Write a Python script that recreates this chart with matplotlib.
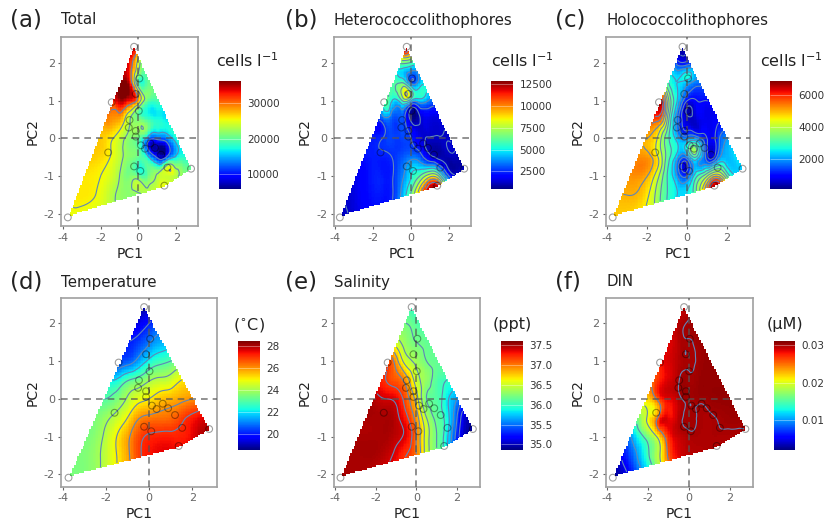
import numpy as np
import matplotlib
matplotlib.use("Agg")
import matplotlib.pyplot as plt
import matplotlib.tri as mtri
from matplotlib.path import Path

plt.rcParams["axes.unicode_minus"] = False

W, H = 835, 523
na = float("nan")

# sampling stations in PC space
site_pc1 = [-0.23, 0.05, -0.14, -1.41, 0.02, -0.47, -0.51, -0.14, -0.14, 0.13, 0.35,
            0.63, 0.88, 1.20, 1.53, 2.78, 1.37, -0.23, 0.10, -1.60, -3.73]
site_pc2 = [2.43, 1.59, 1.18, 0.96, 0.73, 0.49, 0.29, 0.20, 0.05, -0.18, -0.27,
            -0.13, -0.25, -0.43, -0.77, -0.80, -1.25, -0.74, -0.86, -0.37, -2.09]

# outline of the coloured area
hull_pc1 = [-3.68, -1.35, -0.25, 2.78, 1.40]
hull_pc2 = [-2.05, 0.95, 2.42, -0.80, -1.27]

# values, on a coarse node grid (rows top to bottom)
grid_pc1 = [-4, -3, -2, -1.5, -1, -0.5, 0, 0.5, 1, 1.5, 2, 2.5, 3]
grid_pc2 = [2.5, 2, 1.5, 1, 0.5, 0, -0.5, -1, -1.5, -2, -2.5]

total_grid = [
    [33, 33, 33, 33, 34, 34, 28, 22, 20, 20, 20, 20, 20],
    [33, 33, 33, 33, 34, 33, 24, 20, 20, 20, 20, 20, 20],
    [33, 33, 33, 34, 35, 34, 19, 20, 20, 20, 19, 19, 19],
    [30, 30, 31, 33, 35, 33, 28, 20, 19, 18, 18, 18, 18],
    [28, 28, 28, 29, 28, 23, 21, 19, 17.5, 16.5, 17, 17, 17],
    [27, 27, 27, 26, 24, 21.5, 20, 14, 12, 13.5, 17.5, 18, 18],
    [27, 27, 26.5, 25.5, 23.5, 21.5, 20, 17, 10.5, 12, 17, 18, 18],
    [26, 26, 25.5, 24.5, 22.5, 21, 20.5, 20.5, 23, 24, 23, 21, 20],
    [26, 26, 25, 23.5, 22, 21.5, 22, 23, 24, 25, 24, 22, 21],
    [25, 25, 24.5, 23.5, 22, 21.5, 22, 23, 24, 24, 23, 22, 21],
    [25, 25, 24.5, 23.5, 22, 21.5, 22, 23, 24, 24, 23, 22, 21],
]
total_site = [34, 19, 31, 32, 20, na, na, na, na, na, na, 8, na, 6.5, 24.5, 20, 25, na, 17.5, 26, 25]

hetero_grid = [
    [5, 5, 5, 5, 7, 11, 9, 4, 3, 3, 3, 3, 3],
    [6, 6, 6, 6, 6, 6.5, 6, 5, 4, 3, 3, 3, 3],
    [4, 4, 4, 4.5, 6, 6, 3, 4.5, 4, 3, 3, 3, 3],
    [3, 3, 3.5, 4.5, 5, 6, 5, 4.5, 3.5, 3, 3, 3, 3],
    [2.5, 2.5, 2.8, 3, 3, 3, 1, 1.3, 1.5, 1.5, 1.5, 1.5, 1.5],
    [2.2, 2.2, 2.3, 2.5, 2.8, 2.8, 2.5, 1.5, 1.2, 1.2, 1.2, 1, 1],
    [1.5, 1.7, 2.3, 2.3, 2.5, 3, 3.5, 3, 1.6, 1, 1, 1, 1],
    [1.3, 1.5, 2.3, 2.3, 2.4, 3.5, 5, 6.5, 8.5, 7, 2.5, 1.5, 1.5],
    [1.2, 1.5, 2.2, 2.2, 2.4, 4, 6.5, 10, 13, 13, 8, 4, 3],
    [1.2, 1.4, 2, 2, 2.4, 4, 6, 8, 11, 11, 8, 4, 3],
    [1.2, 1.4, 2, 2, 2.4, 4, 6, 8, 11, 11, 8, 4, 3],
]
hetero_site = [12.5, 2.5, 8.5, 5.5, 0.7, na, na, na, na, na, na, na, na, 1, na, na, 12, na, 5, na, na]

holo_grid = [
    [0.5, 0.5, 0.5, 0.5, 0.5, 0.5, 1, 2, 2, 2, 2, 2, 2],
    [2, 2, 2, 2, 2, 1.3, 1.2, 1.5, 1.5, 1.5, 1.5, 1.5, 1.5],
    [4, 4, 4, 4, 3.2, 2.5, 2.3, 1.8, 1.8, 1.5, 1.5, 1.5, 1.5],
    [6, 6, 6, 6, 4.5, 2.5, 1, 1, 1, 1.2, 1, 1, 1],
    [6, 6, 6, 5.7, 4, 1.8, 0.6, 0.7, 0.8, 0.9, 0.8, 0.8, 0.8],
    [5.2, 5.2, 5, 4.5, 3.2, 2.3, 1.9, 1.9, 1, 1.2, 2, 2.2, 2.2],
    [5.2, 5.2, 5.2, 4.6, 3.3, 2.2, 1.8, 2.8, 1.2, 1.6, 2.2, 2.5, 2.5],
    [5.2, 5.2, 5, 4.2, 3, 2, 1.5, 3, 4, 5, 3.5, 2.5, 2.5],
    [5, 5, 4.6, 3.8, 3, 2.5, 2.5, 3.5, 5.5, 6.5, 5, 3, 3],
    [4.8, 4.8, 4.4, 3.8, 3, 2.5, 2.5, 3.5, 5, 6, 5, 3, 3],
    [4.8, 4.8, 4.4, 3.8, 3, 2.5, 2.5, 3.5, 5, 6, 5, 3, 3],
]
holo_site = [0.5, 2.6, 1.8, 6.3, 0.4, na, na, na, na, na, 3.8, na, na, 0.6, 3.3, na, 6.5, 0.8, na, 4.6, 4.8]

temp_grid = [
    [18.5, 18.5, 18.5, 18.5, 18.5, 18.6, 18.8, 19, 19, 19, 19.2, 19.2, 19.2],
    [19, 19, 19, 19, 19, 19.4, 20, 20.5, 20.5, 20.5, 20.5, 20.5, 20.5],
    [19.5, 19.5, 19.8, 19.9, 20, 20.3, 20.9, 21.4, 21.5, 21.5, 21.5, 21.5, 21.5],
    [20, 20, 20, 20.3, 20.6, 21.3, 22.2, 22.7, 23, 23.3, 23.3, 23.3, 23.3],
    [21.5, 21.5, 21.8, 22.1, 22.9, 23.3, 23.9, 24.2, 24.4, 25, 25, 25, 25],
    [23, 23, 23, 23.4, 24.1, 24.7, 25, 25.4, 25.6, 25.8, 26, 26.2, 26.2],
    [23.3, 23.3, 23.8, 24.3, 25, 25.9, 26.2, 26.3, 26.4, 26.8, 27.2, 27.5, 27.5],
    [23.4, 23.4, 24.2, 25, 25.8, 26.7, 27.1, 27.2, 27.2, 27.2, 27.5, 28, 28],
    [23.5, 23.5, 24.3, 25, 25.8, 26.8, 27.3, 27.5, 27.5, 27.5, 27.8, 28, 28],
    [23.5, 23.5, 24.3, 25, 25.8, 26.8, 27.3, 27.5, 27.5, 27.5, 27.8, 28, 28],
    [23.5, 23.5, 24.3, 25, 25.8, 26.8, 27.3, 27.5, 27.5, 27.5, 27.8, 28, 28],
]
temp_site = [na] * 21

sal_grid = [
    [36, 36, 36, 36, 36, 36, 35.9, 35.9, 35.9, 35.9, 35.9, 35.9, 35.9],
    [36.2, 36.2, 36.2, 36.2, 36.2, 36.2, 36.1, 36, 36, 36, 36, 36, 36],
    [36.8, 36.8, 36.8, 36.7, 36.5, 36.3, 36.2, 36.15, 36.1, 36.1, 36.1, 36.1, 36.1],
    [37.2, 37.2, 37.2, 37.2, 36.9, 36.5, 36.35, 36.2, 36.15, 36.1, 36.1, 36.1, 36.1],
    [37.3, 37.3, 37.3, 37.2, 37.1, 36.9, 36.5, 36.3, 36.1, 36, 35.9, 35.9, 35.9],
    [37.5, 37.5, 37.45, 37.4, 37.35, 37.1, 36.7, 36.2, 36.1, 35.85, 35.6, 35.3, 35.3],
    [37.5, 37.5, 37.5, 37.5, 37.45, 37.25, 36.9, 36.4, 36.15, 35.9, 35.4, 35, 35],
    [37.5, 37.5, 37.5, 37.5, 37.45, 37.35, 37, 36.5, 36.2, 35.85, 35.3, 34.95, 34.9],
    [37.5, 37.5, 37.5, 37.45, 37.35, 37.2, 37, 36.5, 36.2, 35.85, 35.3, 34.95, 34.9],
    [37.5, 37.5, 37.45, 37.4, 37.3, 37.2, 37, 36.5, 36.2, 35.85, 35.3, 34.95, 34.9],
    [37.5, 37.5, 37.45, 37.4, 37.3, 37.2, 37, 36.5, 36.2, 35.85, 35.3, 34.95, 34.9],
]
sal_site = [na] * 21

din_grid = [
    [28, 28, 28, 28, 28.5, 29.6, 30.2, 30.3, 30.4, 30.4, 30.4, 30.4, 30.4],
    [28, 28, 28, 28, 28.5, 29.6, 30.1, 30.3, 30.4, 30.4, 30.4, 30.4, 30.4],
    [28, 28, 28, 28, 28.5, 29.6, 29.95, 30.2, 30.4, 30.4, 30.4, 30.4, 30.4],
    [26, 26, 26, 27, 28.7, 29.6, 29.9, 30.15, 30.4, 30.4, 30.4, 30.4, 30.4],
    [24, 24, 24, 27, 28.7, 29.9, 30.1, 30.3, 30.4, 30.4, 30.4, 30.4, 30.4],
    [22, 22, 22, 26, 28.5, 29.6, 30.1, 30.2, 30.3, 30.4, 30.4, 30.4, 30.4],
    [10, 14, 20.5, 25.5, 28.3, 29.5, 30.05, 29.95, 29.85, 30.05, 30.2, 30.2, 30.2],
    [5, 9, 16.5, 21, 27, 29.2, 29.8, 29.85, 29.85, 29.85, 29.85, 29.85, 29.85],
    [3, 7, 14.5, 19, 25.5, 28.5, 29.4, 29.7, 29.8, 29.8, 29.8, 29.8, 29.8],
    [2, 5, 12, 17, 23, 26, 28, 29.5, 29.7, 29.7, 29.7, 29.7, 29.7],
    [2, 5, 12, 17, 23, 26, 28, 29.5, 29.7, 29.7, 29.7, 29.7, 29.7],
]
din_site = [29.5, 30, 30, 27.5, 30, 30, 30, na, na, 30, 30, 30, 30, 30, 30, 30, 29.8, 30, 30, 22, 2.5]

panel_tags = ["(a)", "(b)", "(c)", "(d)", "(e)", "(f)"]
panel_titles = ["Total", "Heterococcolithophores", "Holococcolithophores", "Temperature", "Salinity", "DIN"]
unit_labels = ["cells l$^{-1}$", "cells l$^{-1}$", "cells l$^{-1}$", "($^{\\circ}$C)", "(ppt)", "(\u00b5M)"]

grids = [total_grid, hetero_grid, holo_grid, temp_grid, sal_grid, din_grid]
sites = [total_site, hetero_site, holo_site, temp_site, sal_site, din_site]
scales = [1000, 1000, 1000, 1, 1, 0.001]

color_lims = [(5780, 36270), (430, 12914), (142, 6867), (18.5, 28.4), (34.86, 37.6), (0.00205, 0.031)]
bar_ticks = [
    [10000, 20000, 30000],
    [2500, 5000, 7500, 10000, 12500],
    [2000, 4000, 6000],
    [20, 22, 24, 26, 28],
    [35.0, 35.5, 36.0, 36.5, 37.0, 37.5],
    [0.01, 0.02, 0.03],
]
bar_labels = [
    ["10000", "20000", "30000"],
    ["2500", "5000", "7500", "10000", "12500"],
    ["2000", "4000", "6000"],
    ["20", "22", "24", "26", "28"],
    ["35.0", "35.5", "36.0", "36.5", "37.0", "37.5"],
    ["0.01", "0.02", "0.03"],
]
line_levels = [
    [11000, 16000, 22500, 25500, 30000],
    [1250, 2500, 3750, 5000, 6250, 7500, 8750, 10000, 11250],
    [500, 1000, 1500, 2000, 2500, 3000, 3500, 4000, 4500, 5000, 5500, 6000],
    [20, 21, 22, 23, 24, 25, 26, 27],
    [35.2, 35.4, 35.6, 35.8, 36.0, 36.2, 36.4, 36.6, 36.8, 37.0, 37.2, 37.4],
    [0.005, 0.01, 0.015, 0.02, 0.025, 0.03],
]

# frame left/right in pixels and pixel position of the -4 and 2 ticks
frames_x = [(61.3, 198.3), (333.7, 470.7), (606, 749.7), (61.3, 217.3), (333.7, 480), (606, 752.7)]
ticks_x = [(62.7, 176.3), (334.7, 449.3), (607.3, 727), (62.7, 192.3), (335, 457), (607.3, 729.5)]
frames_y = [(37, 226), (37, 226), (37, 226), (297.7, 486.7), (297.7, 486.7), (297.7, 486.7)]
ticks_y = [(63, 214), (63, 214), (63, 214), (323.3, 474.3), (323.3, 474.3), (323.3, 474.3)]
bars_x = [(219, 240.7), (491.3, 513.3), (770.3, 792.3), (238, 259.7), (501, 522.7), (773.7, 795.3)]
bars_y = [(80.7, 189.3), (80.7, 189.3), (80.7, 189.3), (341.3, 450), (341.3, 450), (341.3, 450)]
tag_xy = [(10, 20), (285, 20), (555, 20), (10, 282), (285, 282), (555, 282)]
unit_xy = [(216, 61), (491, 61), (760, 61), (233, 325), (493, 325), (767, 325)]


def add_axes_px(fig, x0, x1, y0, y1):
    return fig.add_axes([x0 / W, 1 - y1 / H, (x1 - x0) / W, (y1 - y0) / H])


def surface(grid, site_vals, scale, xi, yi):
    gx, gy = np.meshgrid(grid_pc1, grid_pc2)
    keep = ~np.isnan(site_vals)
    x = np.concatenate([gx.ravel(), np.array(site_pc1)[keep]])
    y = np.concatenate([gy.ravel(), np.array(site_pc2)[keep]])
    z = np.concatenate([np.array(grid, dtype=float).ravel(), np.array(site_vals)[keep]]) * scale
    tri = mtri.Triangulation(x, y)
    interp = mtri.CubicTriInterpolator(tri, z, kind="min_E")
    mx, my = np.meshgrid(xi, yi)
    zi = np.ma.masked_invalid(interp(mx, my))
    hull = Path(np.column_stack([hull_pc1 + hull_pc1[:1], hull_pc2 + hull_pc2[:1]]))
    inside = hull.contains_points(np.column_stack([mx.ravel(), my.ravel()])).reshape(mx.shape)
    return np.ma.masked_where(~inside, zi)


xi = np.arange(-4, 3.01, 0.08)
yi = np.arange(-2.5, 2.51, 0.04)

fig = plt.figure(figsize=(W / 100, H / 100), dpi=100)

for i in range(6):
    fx0, fx1 = frames_x[i]
    fy0, fy1 = frames_y[i]
    tx0, tx1 = ticks_x[i]
    ty0, ty1 = ticks_y[i]
    ax = add_axes_px(fig, fx0, fx1, fy0, fy1)

    ux = (tx1 - tx0) / 6
    uy = (ty1 - ty0) / 4
    ax.set_xlim(-4 + (fx0 - tx0) / ux, -4 + (fx1 - tx0) / ux)
    ax.set_ylim(2 - (fy1 - ty0) / uy, 2 - (fy0 - ty0) / uy)

    zi = surface(grids[i], np.array(sites[i], dtype=float), scales[i], xi, yi)
    vmin, vmax = color_lims[i]
    mesh = ax.pcolormesh(xi, yi, zi, cmap="jet", vmin=vmin, vmax=vmax, shading="nearest", zorder=1)
    ax.contour(xi, yi, zi, levels=line_levels[i], colors="#5f86b8", linewidths=0.8, zorder=2)
    ax.axhline(0, color="#555555", lw=1.2, ls=(0, (4, 3)), alpha=0.75, zorder=3)
    ax.axvline(0, color="#555555", lw=1.2, ls=(0, (4, 3)), alpha=0.75, zorder=3)
    ax.scatter(site_pc1, site_pc2, s=24, facecolors="none", edgecolors="#000000", linewidths=0.8,
               alpha=0.38, zorder=4, clip_on=False)

    ax.set_xticks([-4, -2, 0, 2])
    ax.set_yticks([-2, -1, 0, 1, 2])
    ax.tick_params(colors="#666666", labelsize=8, length=2.5, width=0.8, pad=2.2)
    ax.set_xlabel("PC1", fontsize=10, color="#222222", labelpad=3)
    ax.set_ylabel("PC2", fontsize=10, color="#222222", labelpad=3)
    for sp in ax.spines.values():
        sp.set_color("#a0a0a0")
        sp.set_linewidth(1.2)

    bx0, bx1 = bars_x[i]
    by0, by1 = bars_y[i]
    cax = add_axes_px(fig, bx0, bx1, by0, by1)
    cb = fig.colorbar(mesh, cax=cax, ticks=bar_ticks[i])
    cb.ax.set_yticklabels(bar_labels[i])
    cb.outline.set_visible(False)
    cb.ax.tick_params(length=0, labelsize=7.5, colors="#333333", pad=4.5)
    cb.ax.hlines(bar_ticks[i], 0, 1, transform=cb.ax.get_yaxis_transform(), colors="white", lw=0.5, alpha=0.5)

    fig.text(tag_xy[i][0] / W, 1 - tag_xy[i][1] / H, panel_tags[i], fontsize=16.5, ha="left", va="center", color="#222222")
    fig.text(fx0 / W, 1 - tag_xy[i][1] / H, panel_titles[i], fontsize=10.8, ha="left", va="center", color="#222222")
    fig.text(unit_xy[i][0] / W, 1 - unit_xy[i][1] / H, unit_labels[i], fontsize=11.5, ha="left", va="center", color="#222222")

fig.savefig("out.png", dpi=100)
